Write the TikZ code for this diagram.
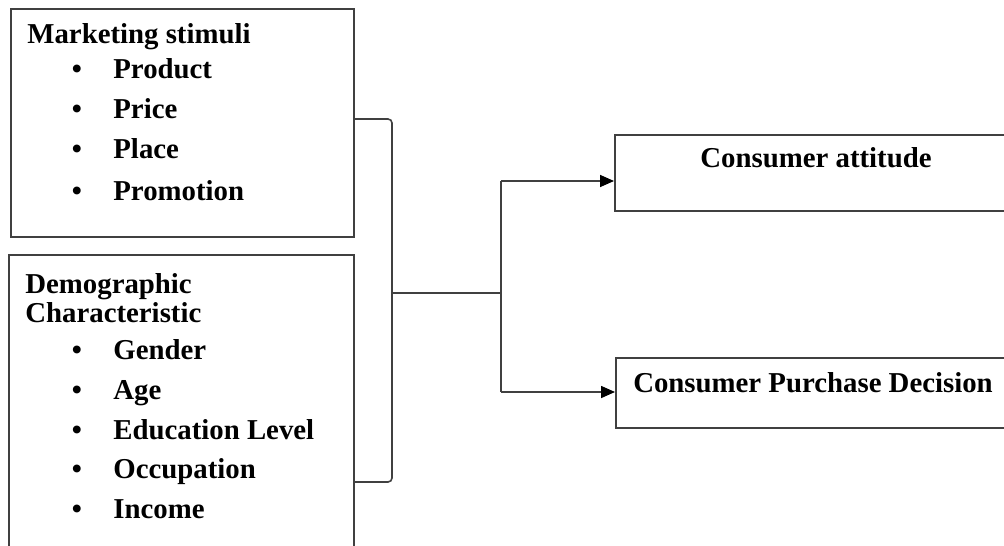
\documentclass[tikz,border=0pt]{standalone}
\usepackage{fontspec}
\setmainfont{Liberation Serif}
\usetikzlibrary{arrows.meta}
\definecolor{linec}{HTML}{404040}
\begin{document}
\begin{tikzpicture}[x=0.5pt,y=-0.5pt,
  box/.style={draw=linec, line width=0.8pt, inner sep=0pt, anchor=north west},
  txt/.style={anchor=base west, inner sep=0pt, font=\fontsize{14.4}{17}\selectfont\bfseries},
  ctxt/.style={anchor=base, inner sep=0pt, font=\fontsize{14.4}{17}\selectfont\bfseries},
  bul/.style={anchor=base, inner sep=0pt, font=\fontsize{14.4}{17}\selectfont\bfseries},
  conn/.style={draw=linec, line width=0.8pt},
  arr/.style={conn, -{Triangle[length=7pt,width=6pt,fill=black,color=black]}}]
\useasboundingbox (0,0) rectangle (1004,545);
\clip (0,0) rectangle (1004,545);
% boxes
\node[box, minimum width=171.5pt, minimum height=114pt] (ms) at (10,8) {};
\node[box, minimum width=172.5pt, minimum height=160pt] (dc) at (8,254) {};
\node[box, minimum width=198pt, minimum height=38pt] (ca) at (614,134) {};
\node[box, minimum width=197.5pt, minimum height=35pt] (cp) at (615,357) {};
% texts box 1
\node[txt] (mst) at (27,44) {Marketing stimuli};
\foreach \y/\t/\n in {79/Product/a,119/Price/b,159/Place/c,200/Promotion/d}{
  \node[bul] (mb\n) at (77,\y) {\textbullet};
  \node[txt] (mi\n) at (113,\y) {\t};
}
% texts box 2
\node[txt] (dct1) at (25,293) {Demographic};
\node[txt] (dct2) at (25,322) {Characteristic};
\foreach \y/\t/\n in {359/Gender/a,399/Age/b,439/Education Level/c,478/Occupation/d,518/Income/e}{
  \node[bul] (db\n) at (77,\y) {\textbullet};
  \node[txt] (di\n) at (113,\y) {\t};
}
% right texts
\node[ctxt] (cat) at (816,168) {Consumer attitude};
\node[ctxt] (cpt) at (813,392) {Consumer Purchase Decision};
% connectors
\coordinate (bt) at (392,119);
\coordinate (bb) at (392,482);
\coordinate (bm) at (392,293);
\coordinate (sm) at (501,293);
\coordinate (st) at (501,181);
\coordinate (sb) at (501,392);
\draw[conn, rounded corners=2pt] (ms.east |- bt) -- (bt) -- (bb) -- (dc.east |- bb);
\draw[conn] (bm) -- (sm);
\draw[conn] (st) -- (sb);
\draw[arr] (st) -- (ca.west |- st);
\draw[arr] (sb) -- (cp.west |- sb);
\end{tikzpicture}
\end{document}
